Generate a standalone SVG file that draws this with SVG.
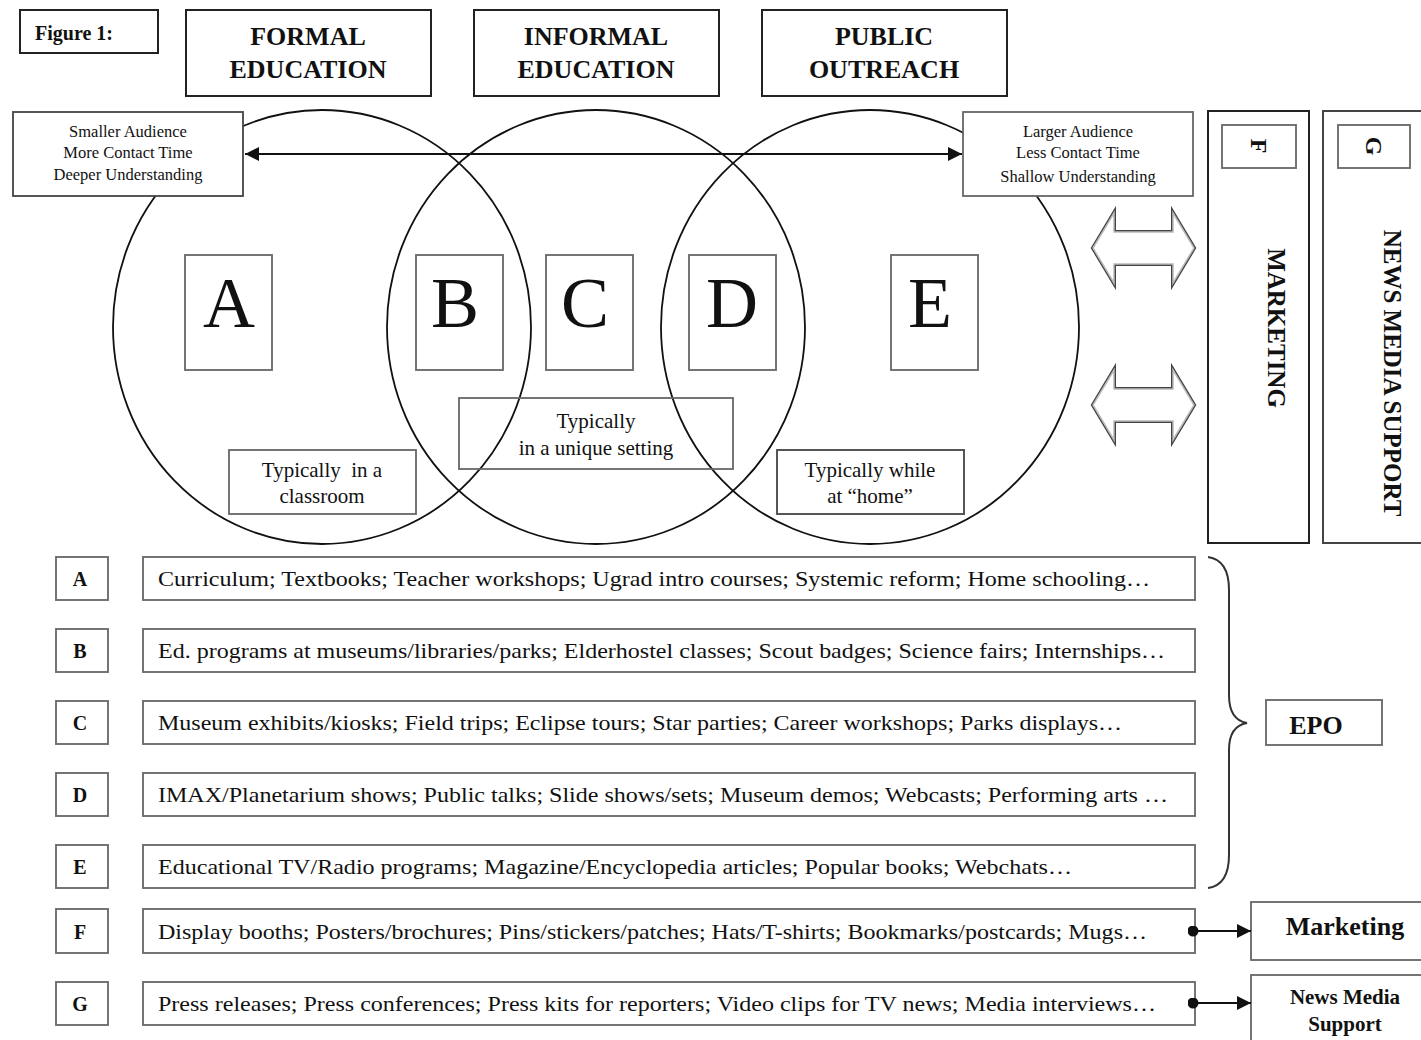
<svg xmlns="http://www.w3.org/2000/svg" width="1421" height="1040" viewBox="0 0 1421 1040">
<style>
text{font-family:"Liberation Serif","Times New Roman",serif;fill:#111}
.hb{fill:#fff;stroke:#222;stroke-width:2}
.bx{fill:#fff;stroke:#666;stroke-width:1.8}
.ob{fill:none;stroke:#666;stroke-width:1.8}
.ell{fill:none;stroke:#111;stroke-width:1.8}
.hd{font-size:26px;font-weight:bold;text-anchor:middle}
.sm{font-size:16.5px;text-anchor:middle}
.big{font-size:72px;text-anchor:middle}
.ty{font-size:21px;text-anchor:middle;white-space:pre}
.row{font-size:21px}
.lab{font-size:20px;font-weight:bold;text-anchor:middle}
.ln{stroke:#111;stroke-width:2;fill:none}
</style>
<defs>
<marker id="ah" viewBox="0 0 10 10" refX="10" refY="5" markerWidth="14" markerHeight="14" markerUnits="userSpaceOnUse" orient="auto-start-reverse">
<path d="M0,0 L10,5 L0,10 z" fill="#111"/>
</marker>
<marker id="dot" viewBox="0 0 10 10" refX="5" refY="5" markerWidth="11" markerHeight="11" markerUnits="userSpaceOnUse">
<circle cx="5" cy="5" r="5" fill="#111"/>
</marker>
<polygon id="dbl" points="0,0 21,-35 21,-16 80,-16 80,-35 101,0 80,35 80,16 21,16 21,35"/>
</defs>
<rect width="1421" height="1040" fill="#fff"/>

<g id="ellipses">
<ellipse class="ell" cx="322" cy="327" rx="209" ry="217"/>
<ellipse class="ell" cx="596" cy="327" rx="209" ry="217"/>
<ellipse class="ell" cx="870" cy="327" rx="209" ry="217"/>
</g>

<g id="fig"><rect class="hb" x="20" y="10" width="138" height="43"/><text x="35" y="40" style="font-size:20px;font-weight:bold">Figure 1:</text></g>
<g id="formal"><rect class="hb" x="186" y="10" width="245" height="86"/><text class="hd" x="308" y="45">FORMAL</text><text class="hd" x="308" y="78">EDUCATION</text></g>
<g id="informal"><rect class="hb" x="474" y="10" width="245" height="86"/><text class="hd" x="596" y="45">INFORMAL</text><text class="hd" x="596" y="78">EDUCATION</text></g>
<g id="public"><rect class="hb" x="762" y="10" width="245" height="86"/><text class="hd" x="884" y="45">PUBLIC</text><text class="hd" x="884" y="78">OUTREACH</text></g>

<g id="smaller"><rect class="bx" x="13" y="112" width="230" height="84" style="stroke:#444"/><text class="sm" x="128" y="137">Smaller Audience</text><text class="sm" x="128" y="158">More Contact Time</text><text class="sm" x="128" y="180">Deeper Understanding</text></g>
<g id="larger"><rect class="bx" x="963" y="112" width="230" height="84"/><text class="sm" x="1078" y="137">Larger Audience</text><text class="sm" x="1078" y="158">Less Contact Time</text><text class="sm" x="1078" y="182">Shallow Understanding</text></g>

<g id="boxA"><rect class="ob" x="185" y="255" width="87" height="115"/><text class="big" x="229" y="327">A</text></g>
<g id="boxB"><rect class="ob" x="416" y="255" width="87" height="115"/><text class="big" x="455" y="327">B</text></g>
<g id="boxC"><rect class="ob" x="546" y="255" width="87" height="115"/><text class="big" x="585" y="327">C</text></g>
<g id="boxD"><rect class="ob" x="689" y="255" width="87" height="115"/><text class="big" x="732" y="327">D</text></g>
<g id="boxE"><rect class="ob" x="891" y="255" width="87" height="115"/><text class="big" x="930" y="327">E</text></g>

<g id="classroom"><rect class="ob" x="229" y="450" width="187" height="64"/><text class="ty" x="322" y="477">Typically  in a</text><text class="ty" x="322" y="503">classroom</text></g>
<g id="unique"><rect class="ob" x="459" y="398" width="274" height="71"/><text class="ty" x="596" y="428">Typically</text><text class="ty" x="596" y="455">in a unique setting</text></g>
<g id="home"><rect class="ob" x="777" y="450" width="187" height="64" style="stroke:#444"/><text class="ty" x="870" y="477">Typically while</text><text class="ty" x="870" y="503">at “home”</text></g>

<g id="colF"><rect x="1208" y="111" width="101" height="432" fill="#fff" stroke="#222" stroke-width="2"/><rect class="bx" x="1222" y="125" width="74" height="43"/><text x="1259" y="146" transform="rotate(90 1259 146)" style="font-size:24px;font-weight:bold;text-anchor:middle;dominant-baseline:central">F</text><text x="1276" y="328" transform="rotate(90 1276 328)" style="font-size:25px;font-weight:bold;text-anchor:middle;dominant-baseline:central">MARKETING</text></g>
<g id="colG"><rect x="1323" y="111" width="110" height="432" fill="#fff" stroke="#444" stroke-width="2"/><rect class="bx" x="1338" y="125" width="72" height="43"/><text x="1374" y="146" transform="rotate(90 1374 146)" style="font-size:24px;font-weight:bold;text-anchor:middle;dominant-baseline:central">G</text><text x="1392" y="373" transform="rotate(90 1392 373)" style="font-size:25px;font-weight:bold;text-anchor:middle;dominant-baseline:central">NEWS MEDIA SUPPORT</text></g>

<g id="rows">
<g id="rowA"><rect class="bx" x="56" y="557" width="52" height="43"/><text class="lab" x="80" y="586">A</text><rect class="bx" x="143" y="557" width="1052" height="43"/><text class="row" x="158" y="586" textLength="992" lengthAdjust="spacingAndGlyphs">Curriculum; Textbooks; Teacher workshops; Ugrad intro courses; Systemic reform; Home schooling…</text></g>
<g id="rowB"><rect class="bx" x="56" y="629" width="52" height="43"/><text class="lab" x="80" y="658">B</text><rect class="bx" x="143" y="629" width="1052" height="43"/><text class="row" x="158" y="658" textLength="1007" lengthAdjust="spacingAndGlyphs">Ed. programs at museums/libraries/parks; Elderhostel classes; Scout badges; Science fairs; Internships…</text></g>
<g id="rowC"><rect class="bx" x="56" y="701" width="52" height="43"/><text class="lab" x="80" y="730">C</text><rect class="bx" x="143" y="701" width="1052" height="43"/><text class="row" x="158" y="730" textLength="964" lengthAdjust="spacingAndGlyphs">Museum exhibits/kiosks; Field trips; Eclipse tours; Star parties; Career workshops; Parks displays…</text></g>
<g id="rowD"><rect class="bx" x="56" y="773" width="52" height="43"/><text class="lab" x="80" y="802">D</text><rect class="bx" x="143" y="773" width="1052" height="43"/><text class="row" x="158" y="802" textLength="1010" lengthAdjust="spacingAndGlyphs">IMAX/Planetarium shows; Public talks; Slide shows/sets; Museum demos; Webcasts; Performing arts …</text></g>
<g id="rowE"><rect class="bx" x="56" y="845" width="52" height="43"/><text class="lab" x="80" y="874">E</text><rect class="bx" x="143" y="845" width="1052" height="43"/><text class="row" x="158" y="874" textLength="914" lengthAdjust="spacingAndGlyphs">Educational TV/Radio programs; Magazine/Encyclopedia articles; Popular books; Webchats…</text></g>
<g id="rowF"><rect class="bx" x="56" y="909" width="52" height="44"/><text class="lab" x="80" y="939">F</text><rect class="bx" x="143" y="909" width="1052" height="44"/><text class="row" x="158" y="939" textLength="989" lengthAdjust="spacingAndGlyphs">Display booths; Posters/brochures; Pins/stickers/patches; Hats/T-shirts; Bookmarks/postcards; Mugs…</text></g>
<g id="rowG"><rect class="bx" x="56" y="982" width="52" height="43"/><text class="lab" x="80" y="1011">G</text><rect class="bx" x="143" y="982" width="1052" height="43"/><text class="row" x="158" y="1011" textLength="998" lengthAdjust="spacingAndGlyphs">Press releases; Press conferences; Press kits for reporters; Video clips for TV news; Media interviews…</text></g>
</g>

<g id="epo"><rect class="bx" x="1266" y="700" width="116" height="45"/><text x="1316" y="734" style="font-size:26px;font-weight:bold;text-anchor:middle">EPO</text></g>
<g id="marketing"><rect class="bx" x="1251" y="902" width="175" height="58"/><text x="1345" y="935" style="font-size:26px;font-weight:bold;text-anchor:middle">Marketing</text></g>
<g id="newsmedia"><rect class="bx" x="1251" y="975" width="175" height="75"/><text x="1345" y="1004" style="font-size:21px;font-weight:bold;text-anchor:middle">News Media</text><text x="1345" y="1031" style="font-size:21px;font-weight:bold;text-anchor:middle">Support</text></g>

<g id="connectors">
<line class="ln" x1="245" y1="154" x2="962" y2="154" marker-start="url(#ah)" marker-end="url(#ah)"/>
<path class="ln" d="M1208,557 Q1229,560 1229,590 L1229,695 Q1229,720 1247,723 Q1229,726 1229,750 L1229,855 Q1229,885 1208,888" style="stroke:#333"/>
<line class="ln" x1="1193" y1="931" x2="1251" y2="931" marker-start="url(#dot)" marker-end="url(#ah)"/>
<line class="ln" x1="1193" y1="1003" x2="1251" y2="1003" marker-start="url(#dot)" marker-end="url(#ah)"/>
<g transform="translate(1093,248)">
<use href="#dbl" fill="#fff" stroke="#444" stroke-width="4"/>
<use href="#dbl" fill="#fff" stroke="#bbb" stroke-width="1.5"/>
</g>
<g transform="translate(1093,405)">
<use href="#dbl" fill="#fff" stroke="#444" stroke-width="4"/>
<use href="#dbl" fill="#fff" stroke="#bbb" stroke-width="1.5"/>
</g>
</g>
</svg>
